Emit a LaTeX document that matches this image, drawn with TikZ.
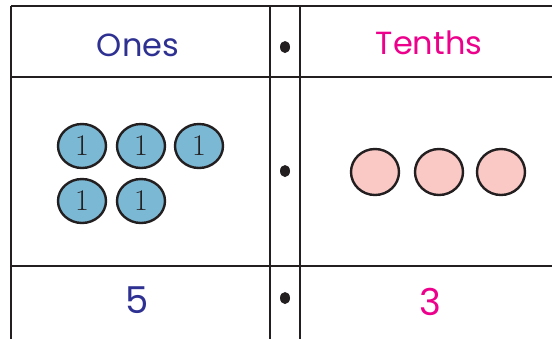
\documentclass[tikz,border=0pt]{standalone}
\usepackage{fontspec}
\usetikzlibrary{shapes.geometric}
\setmainfont{Poppins}
\newfontfamily\onefont{Latin Modern Roman}
\definecolor{onesblue}{HTML}{2E3192}
\definecolor{tenthpink}{HTML}{EC008C}
\definecolor{discblue}{HTML}{7AB8D4}
\definecolor{discpink}{HTML}{FAC9C5}
\definecolor{gridline}{HTML}{231F20}
\begin{document}
\begin{tikzpicture}[x=1pt,y=-1pt,
  gridln/.style={draw=gridline,line width=2.6pt},
  onedisc/.style={ellipse,draw=gridline,line width=2.4pt,fill=discblue,minimum width=48pt,minimum height=44pt,inner sep=0pt,font=\onefont\fontsize{30}{30}\selectfont,text=gridline},
  tenthdisc/.style={ellipse,draw=gridline,line width=2.4pt,fill=discpink,minimum width=48pt,minimum height=46pt,inner sep=0pt},
  decdot/.style={ellipse,fill=gridline,minimum width=10pt,minimum height=12pt,inner sep=0pt},
  headtxt/.style={font=\fontsize{32}{32}\selectfont,inner sep=0pt},
  digittxt/.style={font=\fontsize{37}{37}\selectfont,inner sep=0pt}]
\path[use as bounding box] (0,0) rectangle (552,338);
\fill[white] (0,0) rectangle (552,338);
% grid
\coordinate (tl) at (11,6);
\coordinate (tr) at (560,6);
\coordinate (h1l) at (11,77);
\coordinate (h1r) at (560,77);
\coordinate (h2l) at (11,266);
\coordinate (h2r) at (560,266);
\coordinate (bl) at (11,345);
\coordinate (v1t) at (270,6);
\coordinate (v1b) at (270,345);
\coordinate (v2t) at (300,6);
\coordinate (v2b) at (300,345);
\draw[gridln] (tl) -- (tr);
\draw[gridln] (h1l) -- (h1r);
\draw[gridln] (h2l) -- (h2r);
\draw[gridln] (tl) -- (bl);
\draw[gridln] (v1t) -- (v1b);
\draw[gridln] (v2t) -- (v2b);
% headers
\node[headtxt,text=onesblue] (ones) at (138,45) {Ones};
\node[headtxt,text=tenthpink] (tenths) at (429,43) {Tenths};
% dots
\node[decdot] (d1) at (285,47) {};
\node[decdot] (d2) at (285,171) {};
\node[decdot] (d3) at (285,298) {};
% ones discs
\node[onedisc] (o1) at (82,146) {1};
\node[onedisc] (o2) at (141,146) {1};
\node[onedisc] (o3) at (199,146) {1};
\node[onedisc] (o4) at (82,201) {1};
\node[onedisc] (o5) at (141,201) {1};
% tenths discs
\node[tenthdisc] (t1) at (375,172) {};
\node[tenthdisc] (t2) at (439,172) {};
\node[tenthdisc] (t3) at (501,172) {};
% digits
\node[digittxt,text=onesblue] (five) at (137,300) {5};
\node[digittxt,text=tenthpink] (three) at (430,302) {3};
\end{tikzpicture}
\end{document}
